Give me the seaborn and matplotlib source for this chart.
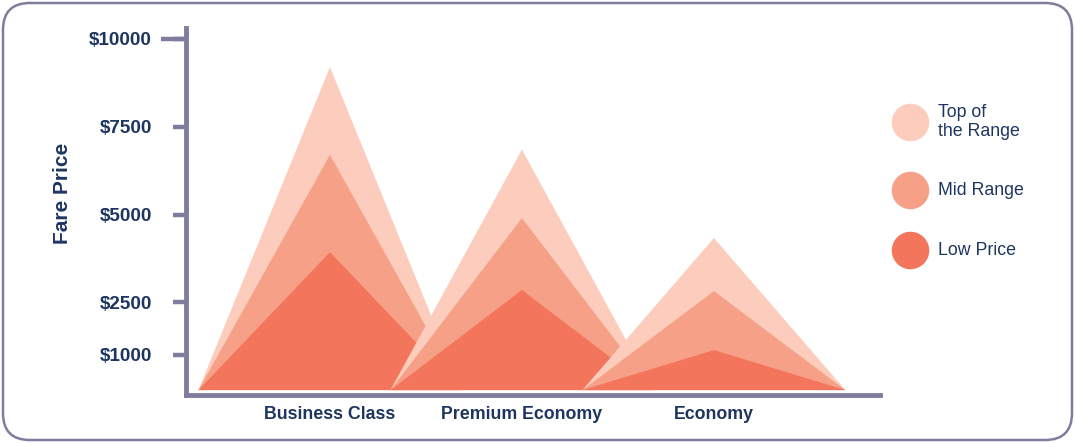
import matplotlib
matplotlib.use("Agg")
import matplotlib.pyplot as plt
import matplotlib.transforms as mtransforms
from matplotlib.patches import FancyBboxPatch
from matplotlib.lines import Line2D
import seaborn as sns

# fare ranges per cabin
categories = ["Business Class", "Premium Economy", "Economy"]
top_range = [9200, 6850, 4330]
mid_range = [6700, 4900, 2820]
low_price = [3930, 2850, 1140]

tick_vals = [1000, 2500, 5000, 7500, 10000]
tick_labels = ["$1000", "$2500", "$5000", "$7500", "$10000"]
legend_labels = ["Top of\nthe Range", "Mid Range", "Low Price"]

sns.set_style("white")
plt.rcParams["font.family"] = ["Liberation Sans", "DejaVu Sans"]

navy = "#1e3560"
axis_col = "#7f7d9e"
colors = ["#fccdbd", "#f6a088", "#f3765c"]

fig = plt.figure(figsize=(10.75, 4.43), dpi=100)
ax = fig.add_axes([186 / 1075, 1 - 395 / 443, (880 - 186) / 1075, (395 - 28) / 443])

half_w = 0.685
for i, cat in enumerate(categories):
    for vals, col in zip([top_range, mid_range, low_price], colors):
        ax.fill([i - half_w, i, i + half_w], [0, vals[i], 0], color=col, lw=0)

ax.set_xlim(-0.75, 2.865)
ax.set_ylim(-140, 10313)
ax.set_xticks(range(len(categories)))
ax.set_xticklabels(categories, fontsize=12.8, fontweight="bold", color=navy)
ax.set_yticks(tick_vals)
ax.set_yticklabels(tick_labels, fontsize=13.6, fontweight="bold", color=navy)
ax.tick_params(axis="x", length=0, pad=8)
ax.tick_params(axis="y", length=9.4, width=3.2, color=axis_col, pad=15, left=True)

# the top tick is drawn longer in the original
trans = mtransforms.blended_transform_factory(ax.transAxes, ax.transData)
ax.plot([-0.036, 0], [tick_vals[-1], tick_vals[-1]], transform=trans, color=axis_col,
        lw=3.2, clip_on=False, solid_capstyle="butt")

sns.despine(ax=ax)
for side in ["left", "bottom"]:
    ax.spines[side].set_color(axis_col)
    ax.spines[side].set_linewidth(3.5)
ax.set_ylabel("Fare Price", fontsize=15, fontweight="bold", color=navy)
ax.yaxis.set_label_coords(-0.164, 0.55)

# legend drawn at right
leg_y = [122, 190, 250]
for lab, col, y in zip(legend_labels, colors, leg_y):
    fig.add_artist(Line2D([910 / 1075], [1 - y / 443], marker="o", ms=26, color=col,
                          mec=col, transform=fig.transFigure))
    fig.text(938 / 1075, 1 - y / 443, lab, fontsize=12.8, color=navy, va="center",
             ha="left", linespacing=1.15)

# rounded frame around the whole figure
frame = FancyBboxPatch((3 / 1075, 3 / 443), 1 - 6 / 1075, 1 - 6 / 443,
                       boxstyle="round,pad=0,rounding_size=0.025",
                       transform=fig.transFigure, fill=False, ec=axis_col, lw=1.8,
                       mutation_aspect=1075 / 443)
fig.add_artist(frame)

fig.savefig("out.png", dpi=100)
